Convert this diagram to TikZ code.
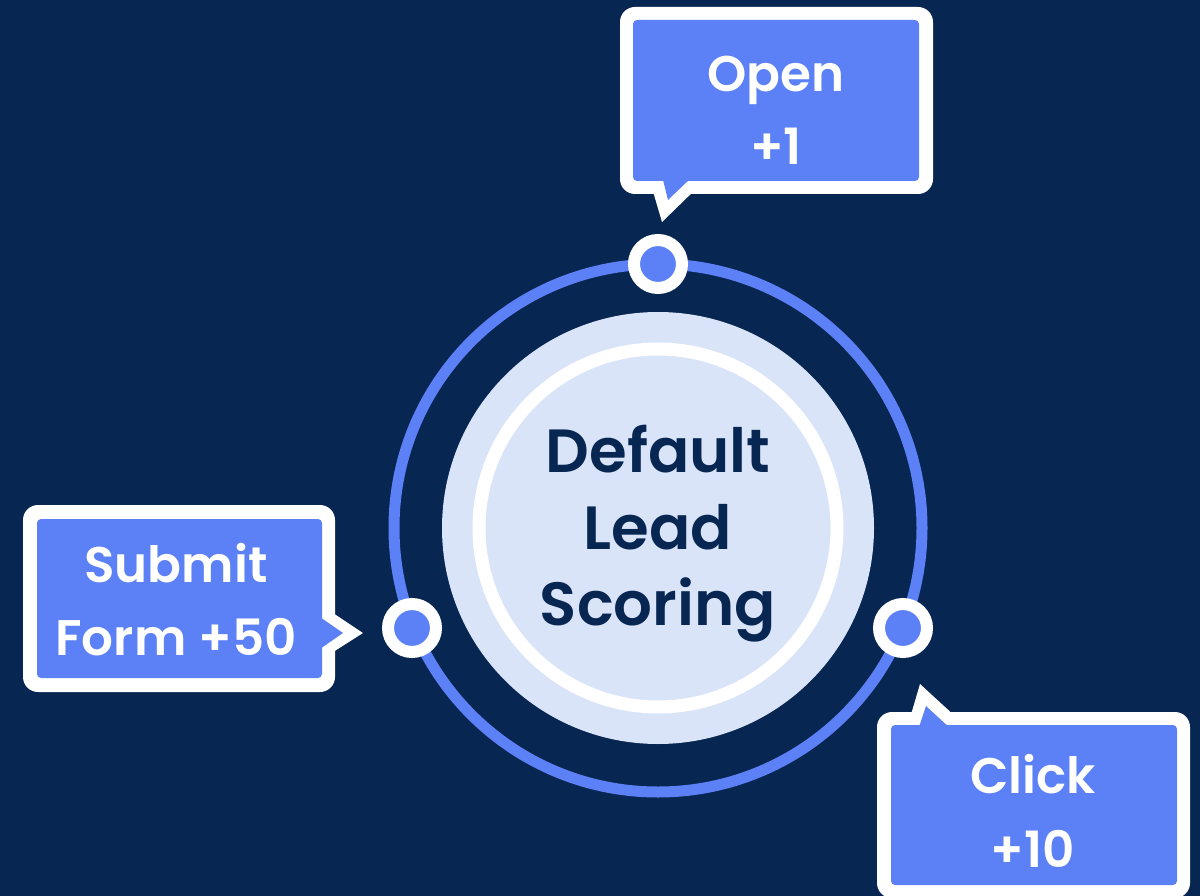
\documentclass[tikz,border=0pt]{standalone}
\usepackage{fontspec}
\setmainfont{Poppins}
\newfontfamily\semib{Poppins SemiBold}
\definecolor{navy}{HTML}{072652}
\definecolor{accent}{HTML}{5C80F5}
\definecolor{pale}{HTML}{DAE4F8}
\tikzset{
  calltext/.style={anchor=base, text=white, font=\semib\fontsize{50}{60}\selectfont, inner sep=0pt},
  centertext/.style={anchor=base, text=navy, font=\semib\fontsize{61}{70}\selectfont, inner sep=0pt},
  dot/.style={circle, fill=accent, draw=white, line width=12pt, minimum size=48pt, inner sep=0pt},
}
\begin{document}
\begin{tikzpicture}[x=1pt,y=-1pt]
\useasboundingbox (0,0) rectangle (1200,896);
\fill[navy] (0,0) rectangle (1200,896);
% rings
\draw[accent, line width=11pt] (658,528) circle[radius=264];
\fill[pale] (658,528) circle[radius=216];
\draw[white, line width=13pt] (658,528) circle[radius=179];
\node[centertext] (c1) at (658,472) {Default};
\node[centertext] (c2) at (658,549) {Lead};
\node[centertext] (c3) at (658,625) {Scoring};
% dots
\node[dot] (dopen) at (658,264) {};
\node[dot] (dsub) at (412,628) {};
\node[dot] (dclick) at (903,628) {};
% Open callout
\fill[white, rounded corners=15pt] (620,7) rectangle (933,194);
\fill[white] (652,188) -- (662,222) -- (697,188) -- cycle;
\fill[accent, rounded corners=4pt] (633,20) rectangle (919,181);
\fill[accent] (662,176) -- (668,200) -- (693,176) -- cycle;
\node[calltext] (open1) at (776,92) {Open};
\node[calltext] (open2) at (776,165) {+1};
% Submit callout
\fill[white, rounded corners=15pt] (23,505) rectangle (335,692);
\fill[white] (330,611) -- (363,633) -- (330,654) -- cycle;
\fill[accent, rounded corners=4pt] (37,519) rectangle (322,678);
\fill[accent] (317,615) -- (343,633) -- (317,651) -- cycle;
\node[calltext] (sub1) at (176,582) {Submit};
\node[calltext] (sub2) at (176,655) {Form +50};
% Click callout
\fill[white, rounded corners=15pt] (877,712) rectangle (1190,898);
\fill[white] (910,718) -- (920,684) -- (957,718) -- cycle;
\fill[accent, rounded corners=4pt] (891,725) rectangle (1177,885);
\fill[accent] (918,730) -- (926,706) -- (952,730) -- cycle;
\node[calltext] (click1) at (1033,793) {Click};
\node[calltext] (click2) at (1033,867) {+10};
\end{tikzpicture}
\end{document}
